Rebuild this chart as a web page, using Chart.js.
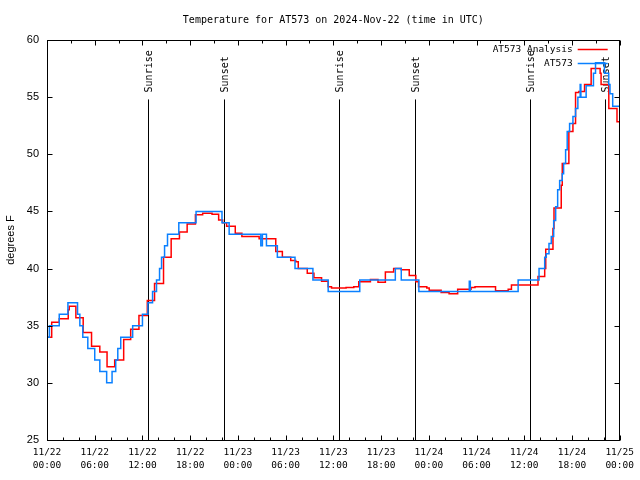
<!DOCTYPE html>
<html>
<head>
<meta charset="utf-8">
<title>Temperature for AT573</title>
<script src="https://cdn.jsdelivr.net/npm/chart.js@4.4.1/dist/chart.umd.min.js"></script>
<style>
    html, body { margin: 0; padding: 0; background: #fff; }
    #chart-container { width: 640px; height: 480px; }
</style>
</head>
<body>
<div id="chart-container"><canvas id="temp-chart" width="640" height="480"></canvas></div>
<script>
const chartTitle = 'Temperature for AT573 on 2024-Nov-22 (time in UTC)';

// Horas desde 11/22 00:00 UTC
const obsHours = [0, 0.3, 1.54, 2.63, 3.84, 4.13, 4.5, 5.13, 6.0, 6.64, 7.5, 8.18, 8.64, 8.9, 9.27,
    10.77, 12.0, 12.69, 13.27, 13.77, 14.15, 14.4, 14.78, 15.15, 16.57, 18.74, 22.0, 22.9, 26.88, 27.08,
    27.59, 28.96, 31.18, 33.43, 35.35, 39.32, 43.79, 44.54, 46.75, 53.09, 53.22, 59.23, 61.86, 62.57, 62.77,
    63.11, 63.4, 63.7, 63.95, 64.2, 64.45, 64.78, 64.95, 65.2, 65.4, 65.7, 66.12, 66.45, 66.74, 67.03,
    67.12, 67.78, 68.7, 68.96, 70.08, 70.62, 70.78, 71.12, 72];
const obsTemps = [34, 35, 36, 37, 36, 35, 34, 33, 32, 31, 30, 31, 32, 33, 34,
    35, 36, 37, 38, 39, 40, 41, 42, 43, 44, 45, 44, 43, 42, 43,
    42, 41, 40, 39, 38, 39, 40, 39, 38, 38.9, 38, 39, 40, 41, 41.3,
    42.2, 42.8, 44.2, 45.4, 46.9, 47.7, 48.3, 49.2, 50.4, 52.0, 52.7, 53.3, 54.0, 55.0, 56.1,
    55.0, 56.0, 57.1, 58.0, 57.1, 56.1, 55.3, 54.2, 54.0];

const anaHours = [0, 0.59, 1.54, 2.67, 2.8, 3.63, 4.55, 5.6, 6.64, 7.55, 8.51, 9.64, 10.52, 11.56, 12.61,
    13.52, 14.65, 15.61, 16.65, 17.62, 18.66, 19.57, 20.75, 21.58, 22.08, 22.58, 23.67, 24.5, 26.67, 28.76,
    29.59, 30.64, 31.27, 31.59, 32.72, 33.56, 34.52, 35.35, 35.77, 37.6, 38.57, 39.19, 40.66, 41.61, 42.54,
    43.58, 44.54, 45.54, 46.37, 46.71, 47.75, 48.05, 49.55, 50.55, 51.63, 53.31, 53.81, 56.39, 57.98, 58.39,
    61.73, 62.57, 62.70, 63.61, 63.74, 64.65, 64.78, 65.61, 66.12, 66.45, 66.87, 67.58, 68.41, 69.54, 69.66,
    70.63, 71.66, 72];
const anaTemps = [34.0, 35.3, 35.6, 36.4, 36.7, 35.7, 34.4, 33.2, 32.7, 31.4, 32.0, 33.8, 34.7, 35.9, 37.2,
    38.7, 41.0, 42.6, 43.2, 43.9, 44.7, 44.85, 44.75, 44.25, 44.0, 43.7, 43.1, 42.8, 42.6, 41.5,
    41.0, 40.7, 40.6, 40.0, 39.6, 39.2, 38.9, 38.4, 38.3, 38.35, 38.4, 38.85, 39.05, 38.8, 39.7,
    40.0, 39.9, 39.4, 38.85, 38.4, 38.3, 38.1, 37.9, 37.8, 38.2, 38.35, 38.4, 38.06, 38.2, 38.56,
    39.3, 40.0, 41.7, 43.5, 45.3, 47.3, 49.2, 52.0, 52.7, 55.4, 55.5, 56.1, 57.5, 57.1, 56.1,
    54.0, 52.85, 52.85];

const tickDates = ['11/22', '11/22', '11/22', '11/22', '11/23', '11/23', '11/23', '11/23',
    '11/24', '11/24', '11/24', '11/24', '11/25'];
const tickTimes = ['00:00', '06:00', '12:00', '18:00', '00:00', '06:00', '12:00', '18:00',
    '00:00', '06:00', '12:00', '18:00', '00:00'];

// Salida / puesta del sol
const sunHours = [12.68, 22.2, 36.73, 46.25, 60.77, 70.16];
const sunLabels = ['Sunrise', 'Sunset', 'Sunrise', 'Sunset', 'Sunrise', 'Sunset'];
const sunLineTop = 54.8;

const MONO = '"DejaVu Sans Mono", monospace';
const SANS = '"Liberation Sans", Arial, sans-serif';

function toPoints(xs, ys) {
    return xs.map((h, i) => ({ x: h, y: ys[i] }));
}

// Titulo centrado sobre el area del grafico
const titlePlugin = {
    id: 'plotTitle',
    afterDraw(chart) {
        const { ctx, chartArea: a } = chart;
        ctx.save();
        ctx.font = '10px ' + MONO;
        ctx.fillStyle = '#000';
        ctx.textAlign = 'center';
        ctx.textBaseline = 'middle';
        ctx.fillText(chartTitle, (a.left + a.right) / 2, a.top - 20);
        ctx.restore();
    }
};

// Marco con marcas hacia adentro (estilo gnuplot)
const framePlugin = {
    id: 'frame',
    afterDatasetsDraw(chart) {
        const { ctx, chartArea: a, scales: { x, y } } = chart;
        const L = Math.round(a.left) + 0.5, R = Math.round(a.right) - 0.5;
        const T = Math.round(a.top) + 0.5, B = Math.round(a.bottom) + 0.5;
        ctx.save();
        ctx.strokeStyle = '#000';
        ctx.lineWidth = 1;
        ctx.strokeRect(L, T, R - L, B - T);
        ctx.beginPath();
        for (let v = x.min; v <= x.max + 1e-6; v += 2) {
            const px = Math.round(x.getPixelForValue(v)) + 0.5;
            const len = (Math.abs(v % 6) < 1e-6) ? 5 : 3;
            ctx.moveTo(px, B); ctx.lineTo(px, B - len);
        }
        for (let v = x.min; v <= x.max + 1e-6; v += 3) {
            const px = Math.round(x.getPixelForValue(v)) + 0.5;
            const len = (Math.abs(v % 6) < 1e-6) ? 5 : 3;
            ctx.moveTo(px, T); ctx.lineTo(px, T + len);
        }
        y.ticks.forEach(t => {
            const py = Math.round(y.getPixelForValue(t.value)) + 0.5;
            ctx.moveTo(L, py); ctx.lineTo(L + 5, py);
            ctx.moveTo(R, py); ctx.lineTo(R - 5, py);
        });
        ctx.stroke();
        ctx.restore();
    }
};

const sunPlugin = {
    id: 'sunEvents',
    beforeDatasetsDraw(chart) {
        const { ctx, scales: { x, y } } = chart;
        ctx.save();
        ctx.strokeStyle = '#000';
        ctx.fillStyle = '#000';
        ctx.lineWidth = 1;
        ctx.font = '10px ' + MONO;
        ctx.textAlign = 'left';
        ctx.textBaseline = 'middle';
        sunHours.forEach((h, i) => {
            const px = Math.round(x.getPixelForValue(h)) + 0.5;
            const top = y.getPixelForValue(sunLineTop);
            ctx.beginPath();
            ctx.moveTo(px, y.getPixelForValue(y.min));
            ctx.lineTo(px, top);
            ctx.stroke();
            ctx.save();
            ctx.translate(px + 1, top - 7);
            ctx.rotate(-Math.PI / 2);
            ctx.fillText(sunLabels[i], 0, 0);
            ctx.restore();
        });
        ctx.restore();
    }
};

// Leyenda en la esquina superior derecha
const legendPlugin = {
    id: 'cornerLegend',
    afterDraw(chart) {
        const { ctx, chartArea: a } = chart;
        ctx.save();
        ctx.font = '9.5px ' + MONO;
        ctx.textAlign = 'right';
        ctx.textBaseline = 'middle';
        chart.data.datasets.forEach((ds, i) => {
            const yy = Math.round(a.top + 9 + i * 13.5) + 0.5;
            ctx.fillStyle = '#000';
            ctx.fillText(ds.label, a.right - 47, yy);
            ctx.strokeStyle = ds.borderColor;
            ctx.lineWidth = 1.5;
            ctx.beginPath();
            ctx.moveTo(a.right - 42, yy);
            ctx.lineTo(a.right - 12, yy);
            ctx.stroke();
        });
        ctx.restore();
    }
};

const ctx = document.getElementById('temp-chart').getContext('2d');
new Chart(ctx, {
    type: 'line',
    data: {
        datasets: [
            {
                label: 'AT573 Analysis',
                data: toPoints(anaHours, anaTemps),
                borderColor: '#ff0000',
                borderWidth: 1.5,
                stepped: true,
                pointRadius: 0,
                order: 2
            },
            {
                label: 'AT573',
                data: toPoints(obsHours, obsTemps),
                borderColor: '#0a80ff',
                borderWidth: 1.5,
                stepped: true,
                pointRadius: 0,
                order: 1
            }
        ]
    },
    options: {
        responsive: false,
        animation: false,
        devicePixelRatio: 1,
        layout: { padding: { left: 0, right: 18, top: 40, bottom: 0 } },
        plugins: {
            legend: { display: false },
            tooltip: { enabled: false },
            title: { display: false }
        },
        scales: {
            x: {
                type: 'linear',
                min: 0,
                max: 72,
                grid: { display: false, drawTicks: false },
                border: { display: false },
                ticks: {
                    stepSize: 6,
                    autoSkip: false,
                    maxRotation: 0,
                    padding: 6,
                    color: '#000',
                    font: { family: MONO, size: 9.5, lineHeight: 1.35 },
                    callback: v => {
                        const i = Math.round(v / 6);
                        return [tickDates[i], tickTimes[i]];
                    }
                },
                afterFit: s => { s.height = 40; }
            },
            y: {
                min: 25,
                max: 60,
                grid: { display: false, drawTicks: false },
                border: { display: false },
                ticks: {
                    stepSize: 5,
                    padding: 8,
                    color: '#000',
                    font: { family: SANS, size: 11 }
                },
                title: {
                    display: true,
                    text: 'degrees F',
                    color: '#000',
                    font: { family: SANS, size: 11 },
                    padding: { top: 4, bottom: 0 }
                },
                afterFit: s => { s.width = 47; }
            }
        }
    },
    plugins: [sunPlugin, framePlugin, legendPlugin, titlePlugin]
});
</script>
</body>
</html>
